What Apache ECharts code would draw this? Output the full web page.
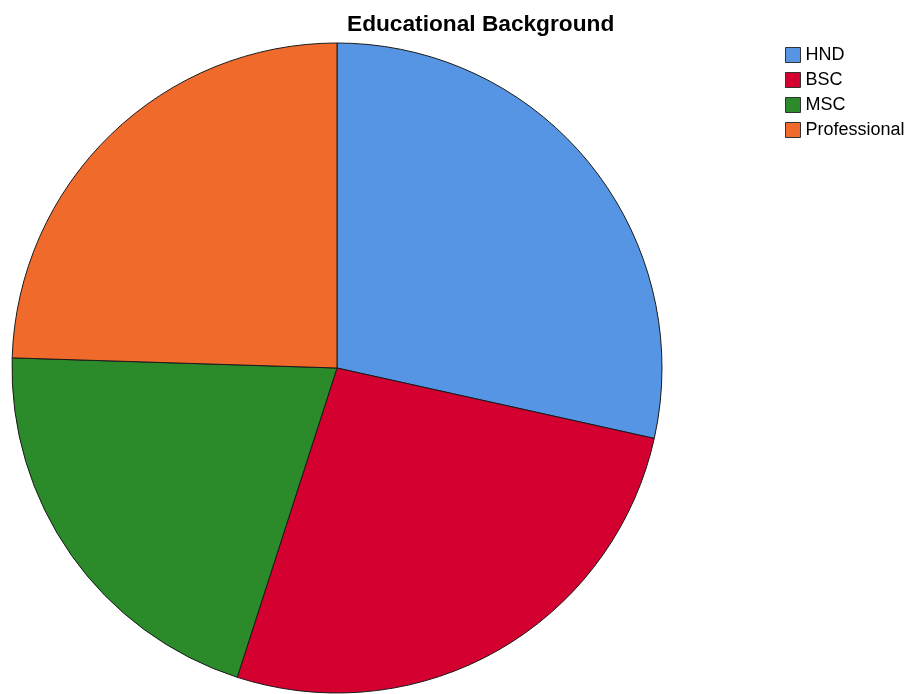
<!DOCTYPE html>
<html>
<head>
<meta charset="utf-8">
<script src="https://cdn.jsdelivr.net/npm/echarts@6/dist/echarts.min.js"></script>
<style>
  html, body { margin: 0; padding: 0; background: #fff; }
  #chart { width: 908px; height: 694px; }
</style>
</head>
<body>
<div id="chart"></div>
<script>
// 학력 구분별 인원
const categories = ['HND', 'BSC', 'MSC', 'Professional'];
const counts = [43, 40, 31, 37];
const colors = ['#5595e3', '#d4002f', '#2b8a2a', '#f06a2c'];

const chart = echarts.init(document.getElementById('chart'));

const options = {
    animation: false,
    title: {
        text: 'Educational Background',
        left: 342,
        top: 8,
        textStyle: {
            fontFamily: 'Liberation Sans, Arial, sans-serif',
            fontSize: 22.7,
            fontWeight: 'bold',
            color: '#000',
        },
    },
    legend: {
        orient: 'vertical',
        left: 780,
        top: 41,
        itemWidth: 15,
        itemHeight: 15,
        itemGap: 7,
        icon: 'rect',
        data: categories,
        itemStyle: {
            borderColor: '#333',
            borderWidth: 1,
        },
        textStyle: {
            fontFamily: 'Liberation Sans, Arial, sans-serif',
            fontSize: 18,
            color: '#000',
        },
    },
    series: [
        {
            type: 'pie',
            center: [337, 368],
            radius: 325,
            startAngle: 90,
            clockwise: true,
            label: { show: false },
            labelLine: { show: false },
            emphasis: { disabled: true },
            itemStyle: {
                borderColor: '#1a1a1a',
                borderWidth: 1,
            },
            data: categories.map((name, i) => ({
                name: name,
                value: counts[i],
                itemStyle: { color: colors[i] },
            })),
        },
    ],
};

chart.setOption(options);
</script>
</body>
</html>
